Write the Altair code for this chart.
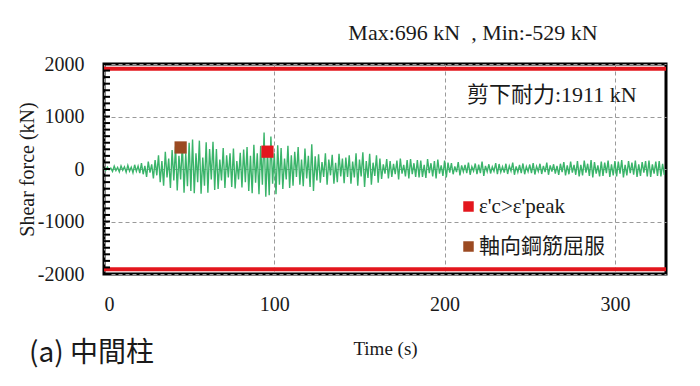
import altair as alt
import pandas as pd

# ---- data ----
# positive peaks (even seconds) and negative peaks (odd seconds), kN
pos_peaks = [
    20, 35, 15, 55, 30, 60, 40, 70, 35, 80, 55,
    110, 60, 140, 90, 170,
    260, 150, 330, 200, 360,
    430, 250, 480, 300, 500,
    560, 300, 540, 220, 510, 380, 520,
    380, 180, 400, 260, 300, 390, 150, 310, 370,
    420, 250, 460, 300, 440, 696,
    350, 620, 300, 450,
    400, 200, 440, 260, 330, 420, 180, 390, 250, 470, 240,
    280, 130, 300, 180, 270, 120, 290, 200, 220,
    260, 140, 300, 180, 320, 150, 290, 120, 260,
    200, 90, 190, 150, 100, 160, 200, 80, 170, 190, 110, 170,
    160, 80, 190, 110, 150, 180, 70, 160, 120,
    110, 50, 130, 70, 80, 120, 45, 105, 85, 140, 60, 90, 40, 110, 95,
    45, 100, 60, 120, 50, 80, 105, 45, 85, 110, 50, 100, 60, 120, 70,
    90, 60, 100, 130, 70, 140, 80,
    150, 80, 160, 100, 170, 130, 70, 140, 120, 160, 90, 150, 140,
    170, 80, 150, 120, 160, 90, 130, 150, 160, 90, 140, 150, 100,
]
neg_peaks = [
    -25, -15, -45, -30, -55, -25, -60, -40, -70, -45, -80,
    -100, -150, -70, -180, -120,
    -250, -320, -160, -360, -220,
    -410, -200, -450, -330, -420,
    -460, -250, -470, -320, -450, -200, -400,
    -380, -220, -360, -160, -340, -370, -200, -350, -250,
    -420, -460, -260, -480, -300, -529,
    -500, -280, -480, -300,
    -380, -200, -360, -320, -150, -300, -330, -180, -340, -420, -220,
    -260, -150, -300, -120, -280, -250, -140, -270, -150,
    -280, -160, -320, -140, -340, -170, -300, -130, -260,
    -190, -90, -180, -150, -100, -200, -90, -140, -180, -100, -150, -160,
    -150, -170, -80, -140, -180, -90, -130, -160, -70,
    -100, -60, -120, -50, -80, -110, -40, -100, -80, -130, -50, -85, -45, -100, -60,
    -70, -95, -40, -110, -60, -80, -100, -50, -80, -105, -45, -95, -60, -110, -50,
    -90, -110, -60, -120, -100, -70, -110,
    -140, -120, -70, -130, -160, -90, -140, -130, -80, -150, -120, -140, -90,
    -160, -120, -80, -110, -150, -130, -70, -140, -150, -90, -130, -140, -110,
]

marker_labels = ["ε'c>ε'peak", "軸向鋼筋屈服"]
marker_time = [96, 45]
marker_force = [330, 410]
marker_colors = ["#e3161d", "#9b4a22"]

capacity_lines = [1911, -1911]
x_ticks = [0, 100, 200, 300]
y_ticks = [-2000, -1000, 0, 1000, 2000]
minor_y_ticks = list(range(-2000, 2001, 125))

title_text = "Max:696 kN\u00a0 , Min:-529 kN"
capacity_text = "剪下耐力:1911\u00a0kN"
panel_text = "(a) 中間柱"

SERIF = "'Liberation Serif', 'Noto Sans CJK TC', serif"
CJK = "'Noto Sans CJK TC', sans-serif"
INK = "#1a1a1a"

# ---- tables ----
times, forces = [], []
for k, (p, n) in enumerate(zip(pos_peaks, neg_peaks)):
    times += [2 * k, 2 * k + 1]
    forces += [p, n]
sig = pd.DataFrame({"t": times, "v": forces})
markers = pd.DataFrame({"t": marker_time, "v": marker_force, "kind": marker_labels})
caps = pd.DataFrame({"v": capacity_lines})
minor = pd.DataFrame({"v": minor_y_ticks})

W, H = 562, 210
xs = alt.Scale(domain=[0, 330], nice=False, zero=False)
ys = alt.Scale(domain=[-2000, 2000], nice=False)

x_axis = alt.Axis(values=x_ticks, title="Time (s)", grid=True, gridDash=[4, 3],
                  gridColor="#9a9a9a", gridWidth=1, ticks=False, domain=False,
                  labelExpr="'' + datum.value",
                  labelFont=SERIF, labelFontSize=20, labelColor=INK,
                  labelPadding=20, titleFont=SERIF, titleFontSize=19,
                  titleFontWeight="normal", titleColor=INK, titlePadding=25)
y_axis = alt.Axis(values=y_ticks, title="Shear force (kN)", grid=True, gridDash=[4, 3],
                  gridColor="#9a9a9a", gridWidth=1, ticks=False, domain=False,
                  labelExpr="'' + datum.value",
                  labelFont=SERIF, labelFontSize=20, labelColor=INK,
                  labelPadding=20, titleFont=SERIF, titleFontSize=20,
                  titleFontWeight="normal", titleColor=INK, titlePadding=0)

line = alt.Chart(sig).mark_line(color="#3ab46a", strokeWidth=1.4).encode(
    x=alt.X("t:Q", scale=xs, axis=x_axis),
    y=alt.Y("v:Q", scale=ys, axis=y_axis),
)

cap_rules = alt.Chart(caps).mark_rule(color="#e3161d", strokeWidth=4).encode(
    y=alt.Y("v:Q", scale=ys)
)

minor_ticks = alt.Chart(minor).mark_rule(color="#000000", strokeWidth=2,
                                         opacity=1).encode(
    y=alt.Y("v:Q", scale=ys), x=alt.value(0), x2=alt.value(6)
)

pts = alt.Chart(markers).mark_square(size=150, opacity=1).encode(
    x=alt.X("t:Q", scale=xs),
    y=alt.Y("v:Q", scale=ys),
    color=alt.Color("kind:N",
                    scale=alt.Scale(domain=marker_labels, range=marker_colors),
                    legend=alt.Legend(title=None, orient="none", legendX=354, legendY=132,
                                      symbolType="square", symbolSize=110,
                                      symbolStrokeWidth=0, symbolOpacity=1,
                                      labelFont=SERIF, labelFontSize=21,
                                      labelColor=INK, rowPadding=18, labelOffset=0)),
)

def txt(s, x, y, font, size, align="left"):
    return alt.Chart(pd.DataFrame({"s": [s]})).mark_text(
        font=font, fontSize=size, align=align, baseline="middle", color=INK
    ).encode(text="s:N", x=alt.value(x), y=alt.value(y))

title = txt(title_text, 369, -31, SERIF, 22, "center")
cap_label = txt(capacity_text, 363, 31, SERIF, 22)
panel = txt(panel_text, -75, 290, CJK, 28)

chart = alt.layer(line, cap_rules, pts, title, cap_label, panel, minor_ticks).properties(
    width=W, height=H,
    autosize=alt.AutoSizeParams(type="none"),
    padding={"left": 96, "top": 56, "right": 26, "bottom": 100},
).configure_view(stroke="black", strokeWidth=3)

chart.save("out.html", embed_options={"renderer": "svg", "actions": False})
